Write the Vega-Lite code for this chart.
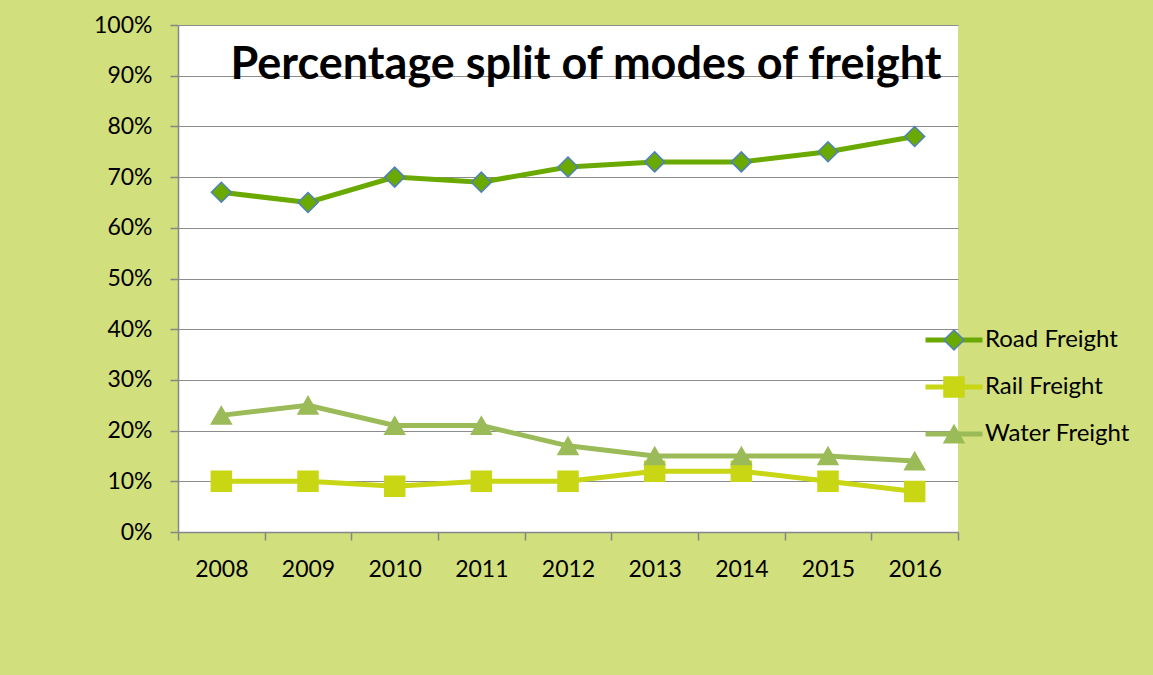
{
  "$schema": "https://vega.github.io/schema/vega-lite/v6.json",
  "width": 780,
  "height": 507,
  "autosize": {"type": "none"},
  "padding": {"left": 178, "top": 25, "right": 195, "bottom": 143},
  "background": "#d1df7d",
  "config": {
    "font": "Lato",
    "view": {"fill": "white", "stroke": null},
    "axis": {"labelFont": "Lato", "labelFontSize": 23, "labelColor": "#000000", "domainColor": "#868686", "tickColor": "#868686", "gridColor": "#8c8c8c", "domainWidth": 1.5, "tickWidth": 1.5, "gridWidth": 1, "tickSize": 8, "titleFontSize": 12}
  },
  "title": {"text": "Percentage split of modes of freight", "font": "Lato", "fontSize": 45, "fontWeight": "bold", "color": "#000000", "anchor": "middle", "baseline": "alphabetic", "dx": 18, "dy": 110, "offset": 0},
  "data": {"values": [
    {"year": "2008", "mode": "Road Freight", "series": "Road Freight", "value": 0.67},
    {"year": "2009", "mode": "Road Freight", "series": "Road Freight", "value": 0.65},
    {"year": "2010", "mode": "Road Freight", "series": "Road Freight", "value": 0.70},
    {"year": "2011", "mode": "Road Freight", "series": "Road Freight", "value": 0.69},
    {"year": "2012", "mode": "Road Freight", "series": "Road Freight", "value": 0.72},
    {"year": "2013", "mode": "Road Freight", "series": "Road Freight", "value": 0.73},
    {"year": "2014", "mode": "Road Freight", "series": "Road Freight", "value": 0.73},
    {"year": "2015", "mode": "Road Freight", "series": "Road Freight", "value": 0.75},
    {"year": "2016", "mode": "Road Freight", "series": "Road Freight", "value": 0.78},
    {"year": "2008", "mode": "Rail Freight", "series": "Rail Freight", "value": 0.10},
    {"year": "2009", "mode": "Rail Freight", "series": "Rail Freight", "value": 0.10},
    {"year": "2010", "mode": "Rail Freight", "series": "Rail Freight", "value": 0.09},
    {"year": "2011", "mode": "Rail Freight", "series": "Rail Freight", "value": 0.10},
    {"year": "2012", "mode": "Rail Freight", "series": "Rail Freight", "value": 0.10},
    {"year": "2013", "mode": "Rail Freight", "series": "Rail Freight", "value": 0.12},
    {"year": "2014", "mode": "Rail Freight", "series": "Rail Freight", "value": 0.12},
    {"year": "2015", "mode": "Rail Freight", "series": "Rail Freight", "value": 0.10},
    {"year": "2016", "mode": "Rail Freight", "series": "Rail Freight", "value": 0.08},
    {"year": "2008", "mode": "Water Freight", "series": "Water Freight", "value": 0.23},
    {"year": "2009", "mode": "Water Freight", "series": "Water Freight", "value": 0.25},
    {"year": "2010", "mode": "Water Freight", "series": "Water Freight", "value": 0.21},
    {"year": "2011", "mode": "Water Freight", "series": "Water Freight", "value": 0.21},
    {"year": "2012", "mode": "Water Freight", "series": "Water Freight", "value": 0.17},
    {"year": "2013", "mode": "Water Freight", "series": "Water Freight", "value": 0.15},
    {"year": "2014", "mode": "Water Freight", "series": "Water Freight", "value": 0.15},
    {"year": "2015", "mode": "Water Freight", "series": "Water Freight", "value": 0.15},
    {"year": "2016", "mode": "Water Freight", "series": "Water Freight", "value": 0.14}
  ]},
  "encoding": {
    "x": {"field": "year", "type": "ordinal", "bandPosition": 0.5,
      "scale": {"type": "band", "paddingInner": 0, "paddingOuter": 0},
      "axis": {"title": null, "labelAngle": 0, "tickBand": "extent", "grid": false, "labelPadding": 18, "domain": true}},
    "y": {"field": "value", "type": "quantitative",
      "scale": {"domain": [0, 1], "nice": false},
      "axis": {"title": null, "format": ".0%", "values": [0, 0.1, 0.2, 0.3, 0.4, 0.5, 0.6, 0.7, 0.8, 0.9, 1], "grid": true, "labelPadding": 18}}
  },
  "layer": [
    {
      "mark": {"type": "line", "strokeWidth": 5},
      "encoding": {
        "color": {"field": "mode", "type": "nominal", "sort": ["Road Freight", "Rail Freight", "Water Freight"],
          "scale": {"range": ["#6aaa00", "#c8d614", "#9bbb59"]},
          "legend": {"title": null, "orient": "none", "legendX": 745, "legendY": 303, "symbolType": "stroke", "symbolSize": 3249, "symbolStrokeWidth": 5, "clipHeight": 24, "rowPadding": 23, "labelFontSize": 24, "labelFont": "Lato", "labelColor": "#000000", "labelOffset": 0, "padding": 0, "zindex": 0}}
      }
    },
    {
      "mark": {"type": "point", "filled": true, "opacity": 1, "strokeWidth": 1.5, "size": 400},
      "encoding": {
        "shape": {"field": "series", "type": "nominal",
          "scale": {"domain": ["Road Freight", "Rail Freight", "Water Freight"], "range": ["diamond", "square", "triangle-up"]},
          "legend": {"title": null, "orient": "none", "legendX": 764, "legendY": 303, "symbolSize": 400, "symbolStrokeWidth": 1.5, "clipHeight": 24, "rowPadding": 23, "labelFontSize": 24, "labelExpr": "''", "labelOffset": 0, "padding": 0, "zindex": 1, "symbolOpacity": 1}},
        "fill": {"field": "series", "type": "nominal",
          "scale": {"domain": ["Road Freight", "Rail Freight", "Water Freight"], "range": ["#6aaa00", "#c8d614", "#9bbb59"]},
          "legend": {"title": null, "orient": "none", "legendX": 764, "legendY": 303, "symbolSize": 400, "symbolStrokeWidth": 1.5, "clipHeight": 24, "rowPadding": 23, "labelFontSize": 24, "labelExpr": "''", "labelOffset": 0, "padding": 0, "zindex": 1, "symbolOpacity": 1}},
        "stroke": {"field": "series", "type": "nominal",
          "scale": {"domain": ["Road Freight", "Rail Freight", "Water Freight"], "range": ["#4f81bd", "#c8d614", "#9bbb59"]},
          "legend": {"title": null, "orient": "none", "legendX": 764, "legendY": 303, "symbolSize": 400, "symbolStrokeWidth": 1.5, "clipHeight": 24, "rowPadding": 23, "labelFontSize": 24, "labelExpr": "''", "labelOffset": 0, "padding": 0, "zindex": 1, "symbolOpacity": 1}}
      }
    }
  ]
}
